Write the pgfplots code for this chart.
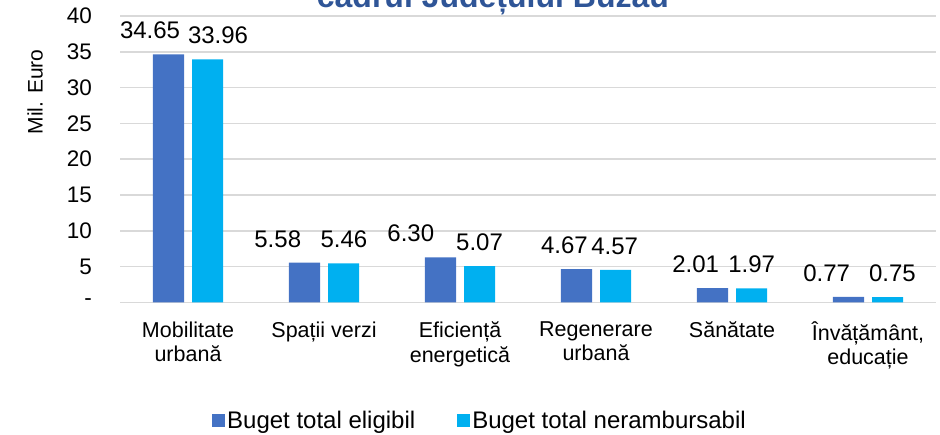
\documentclass[border=0pt]{standalone}
\usepackage{pgfplots}
\pgfplotsset{compat=1.18}
\usepackage{fontspec}
\setmainfont{Liberation Sans}
\definecolor{cblue}{HTML}{4472C4}
\definecolor{ccyan}{HTML}{00B0F0}
\definecolor{ctitle}{HTML}{2F5597}
\definecolor{cgrid}{HTML}{D9D9D9}
\begin{document}
\begin{tikzpicture}[x=1pt,y=1pt]
\useasboundingbox (0,0) rectangle (940,434);
\clip (0,0) rectangle (940,434);
\begin{axis}[
  at={(120pt,131.5pt)}, anchor=south west,
  width=816pt, height=286.5pt, scale only axis,
  xmin=-0.5, xmax=5.5, ymin=0, ymax=40,
  axis line style={draw=none},
  ymajorgrids, grid style={cgrid, line width=1.6pt},
  major tick style={draw=none},
  ytick={0,5,...,40},
  yticklabels={-,5,10,15,20,25,30,35,40},
  yticklabel style={font=\fontsize{22.5}{24}\selectfont, anchor=east, inner sep=0pt, xshift=-28pt},
  xtick={0,1,2,3,4,5},
  xticklabels={{Mobilitate\\urbană},{Spații verzi},{Eficiență\\energetică},{Regenerare\\urbană},{Sănătate},{Învățământ,\\educație}},
  xticklabel style={font=\fontsize{21.5}{24.5}\selectfont, align=center, anchor=north, inner sep=0pt, yshift=-19pt},
  ylabel={Mil. Euro},
  ylabel style={font=\fontsize{21}{24}\selectfont, at={(axis description cs:-0.104,0.735)}, anchor=center, rotate=0},
  title={cadrul Județului Buzău},
  title style={font=\fontsize{32}{34}\selectfont\bfseries, color=ctitle, at={(axis description cs:0.457,1.0094)}, anchor=base, yshift=0pt},
  legend style={draw=none, fill=none, font=\fontsize{24}{26}\selectfont, at={(axis description cs:0.1127,-0.4136)}, anchor=west, legend columns=2, inner sep=0pt,
    /tikz/every even column/.append style={column sep=40pt}},
  legend cell align=left,
  legend image code/.code={\fill[#1] (0pt,-6.5pt) rectangle (13pt,6.5pt);},
]
\addplot[ybar, bar width=31pt, bar shift=-19.5pt, fill=cblue, draw=none] coordinates {(0,34.65) (1,5.58) (2,6.30) (3,4.67) (4,2.01) (5,0.77)};
\addlegendentry{Buget total eligibil}
\addplot[ybar, bar width=31pt, bar shift=19.5pt, fill=ccyan, draw=none] coordinates {(0,33.96) (1,5.46) (2,5.07) (3,4.57) (4,1.97) (5,0.75)};
\addlegendentry{Buget total nerambursabil}
\addplot[forget plot, draw=none, mark=none, nodes near coords, point meta=explicit symbolic,
  nodes near coords style={font=\fontsize{24}{26}\selectfont, anchor=base, inner sep=0pt}]
  coordinates {(-0.279,36.8)[34.65] (0.660,7.73)[5.58] (1.638,8.45)[6.30] (2.768,6.82)[4.67] (3.733,4.16)[2.01] (4.696,2.92)[0.77]};
\addplot[forget plot, draw=none, mark=none, nodes near coords, point meta=explicit symbolic,
  nodes near coords style={font=\fontsize{24}{26}\selectfont, anchor=base, inner sep=0pt}]
  coordinates {(0.221,36.11)[33.96] (1.147,7.61)[5.46] (2.144,7.22)[5.07] (3.137,6.72)[4.57] (4.145,4.12)[1.97] (5.18,2.9)[0.75]};
\end{axis}
\end{tikzpicture}
\end{document}
